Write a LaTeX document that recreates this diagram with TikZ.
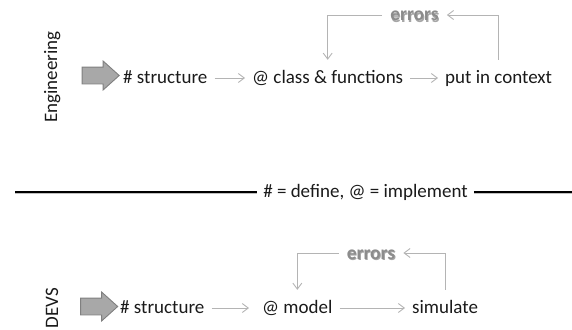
\documentclass[tikz,border=0pt]{standalone}
\usepackage{fontspec}
\setmainfont{Carlito}
\usetikzlibrary{arrows.meta,shapes.arrows}

\definecolor{ink}{HTML}{1A1A1A}
\definecolor{flowgray}{HTML}{B4B4B4}
\definecolor{loopgray}{HTML}{8C8C8C}
\definecolor{bigfill}{HTML}{A8A8A8}
\definecolor{bigedge}{HTML}{808080}

% gray word with a soft drop shadow
\newcommand{\shadowword}[1]{\makebox[0pt][l]{\hspace{0.9pt}\raisebox{-1.4pt}{\color{black!35}#1}}#1}

\begin{document}
\begin{tikzpicture}[x=1pt,y=-1pt,
  font=\fontsize{19}{22}\selectfont, text=ink,
  stage/.style={anchor=base west, inner xsep=7pt, inner ysep=9pt, text height=14pt, text depth=4pt},
  loopword/.style={inner xsep=8pt, inner ysep=0pt, text height=12pt, text depth=0pt, text=loopgray, font=\fontsize{19.5}{22}\selectfont\bfseries},
  flow/.style={draw=flowgray, line width=0.9pt, -{Straight Barb[length=6pt,width=9pt]}},
  bigarrow/.style={single arrow, draw=bigedge, fill=bigfill, line width=0.9pt, minimum height=37pt,
    minimum width=28pt, inner xsep=0pt, inner ysep=8pt, single arrow head extend=6pt, single arrow tip angle=84},
  side/.style={rotate=90, anchor=base, inner sep=0pt}]
\useasboundingbox (0,0) rectangle (572,329);

% top row
\node[side] (eng) at (57,77) {Engineering};
\node[bigarrow] (go1) at (96,75.5) {};
\node[stage] (s1) at (116,83) {\# structure};
\node[stage] (cls) at (245,83) {@ class \& functions};
\node[stage] (put) at (438,83) {put in context};
\node[loopword] (err1) at (414.5,15) {\shadowword{errors}};
\draw[flow] (s1) -- (cls);
\draw[flow] (cls) -- (put);
\draw[flow] (put.north) |- (err1.east);
\draw[flow] (err1.west) -| (cls.north);

% divider
\node[anchor=base, inner xsep=6pt, text height=14pt, text depth=4pt] (key) at (365.5,197) {\# = define, @ = implement};
\coordinate (lineL) at (15,192);
\coordinate (lineR) at (572,192);
\draw[black!25, line width=1.8pt] ([yshift=-1pt]lineL) -- ([yshift=-1pt]key.west |- lineL);
\draw[black!25, line width=1.8pt] ([yshift=-1pt]key.east |- lineR) -- ([yshift=-1pt]lineR);
\draw[black, line width=1.8pt] (lineL) -- (key.west |- lineL);
\draw[black, line width=1.8pt] (key.east |- lineR) -- (lineR);

% bottom row
\node[side] (devs) at (58,308) {DEVS};
\node[bigarrow] (go2) at (94.5,306.5) {};
\node[stage] (s2) at (113,313) {\# structure};
\node[stage] (mdl) at (255,313) {@ model};
\node[stage] (sim) at (405,313) {simulate};
\node[loopword] (err2) at (371,253) {\shadowword{errors}};
\draw[flow, shorten >=6pt] (s2) -- (mdl);
\draw[flow] (mdl) -- (sim);
\draw[flow] (sim.north) |- (err2.east);
\draw[flow] (err2.west) -| (mdl.north);
\end{tikzpicture}
\end{document}
